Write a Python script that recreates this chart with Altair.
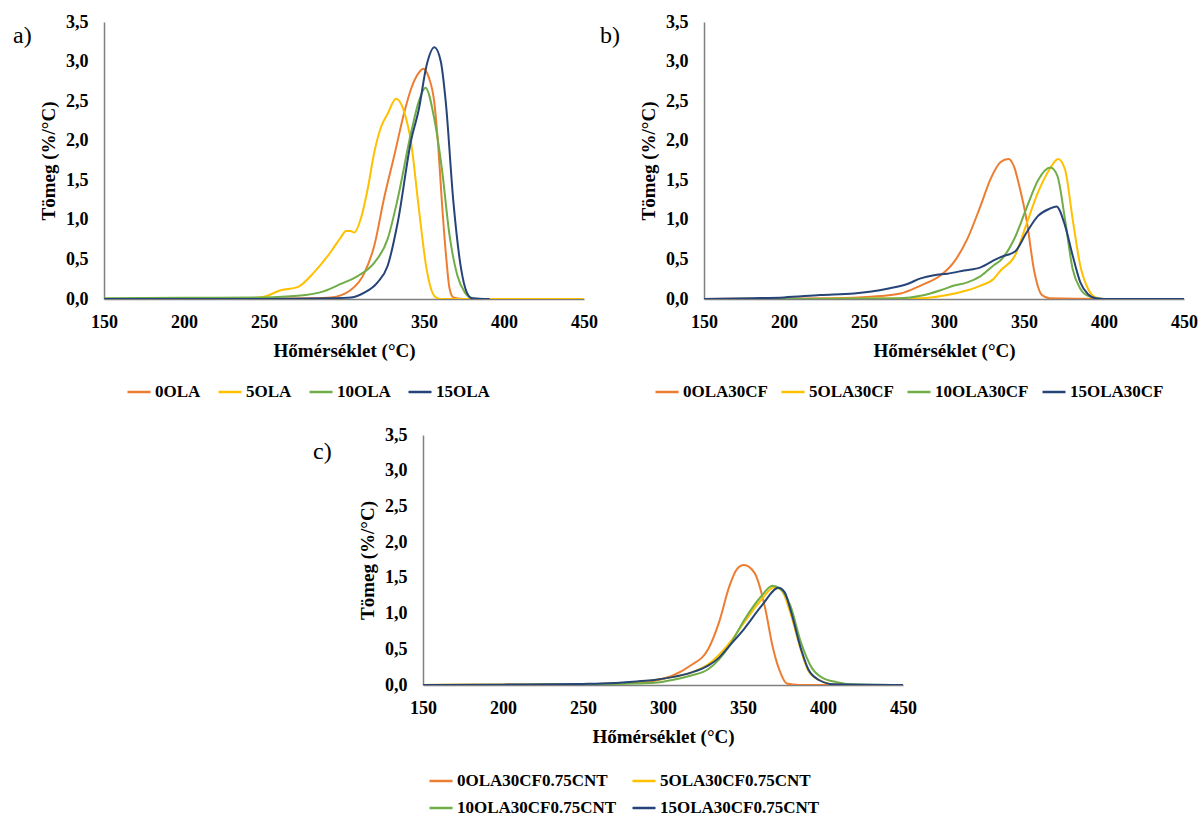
import altair as alt
import pandas as pd

# ---------------- data ----------------
COLORS = ["#ED7D31", "#FFC000", "#70AD47", "#264478"]

A_NAMES = ["0OLA", "5OLA", "10OLA", "15OLA"]
A0_T = [150, 200, 250, 280, 292, 304, 313, 319, 325, 331.5, 337.7, 342, 346.8, 349.5, 353, 356.4, 359, 361.2, 363.6, 366, 368.4, 375]
A0_V = [0.0, 0.0, 0.005, 0.01, 0.02, 0.11, 0.34, 0.68, 1.27, 1.82, 2.36, 2.66, 2.86, 2.91, 2.8, 2.49, 1.9, 1.22, 0.59, 0.13, 0.02, 0.0]
A5_T = [150, 200, 240, 250, 260.6, 271, 281.4, 291.9, 298, 301.3, 304, 306.4, 310.6, 314.8, 319, 323.1, 327.3, 332.5, 337.7, 341.9, 346.8, 351.6, 356.4, 360, 400, 450]
A5_V = [0.0, 0.005, 0.01, 0.03, 0.11, 0.15, 0.34, 0.6, 0.78, 0.86, 0.86, 0.84, 1.02, 1.39, 1.86, 2.17, 2.34, 2.53, 2.36, 1.98, 1.14, 0.38, 0.04, 0.0, 0.0, 0.0]
A10_T = [150, 200, 250, 271, 287.7, 298, 308.5, 319, 327.3, 333.6, 341.9, 346.8, 350.9, 356.4, 361.2, 366, 370.8, 375.6, 380, 385]
A10_V = [0.01, 0.015, 0.02, 0.04, 0.1, 0.19, 0.29, 0.46, 0.76, 1.27, 2.1, 2.5, 2.67, 2.28, 1.64, 0.8, 0.3, 0.08, 0.01, 0.0]
A15_T = [150, 200, 250, 292, 304.4, 312.7, 321, 327.3, 333.6, 341.9, 346.8, 351.6, 356.5, 360.5, 363.6, 368.4, 373.2, 376.8, 380, 391]
A15_V = [0.0, 0.0, 0.0, 0.01, 0.02, 0.08, 0.21, 0.42, 0.97, 2.0, 2.4, 2.95, 3.18, 3.0, 2.49, 1.22, 0.38, 0.08, 0.01, 0.0]

B_NAMES = ["0OLA30CF", "5OLA30CF", "10OLA30CF", "15OLA30CF"]
B0_T = [150, 200, 230, 254.2, 272.9, 285.4, 297.9, 306.3, 314.6, 322.9, 329.2, 335.4, 340.3, 344, 346.8, 351.6, 356.4, 361.2, 366, 400, 450]
B0_V = [0.0, 0.005, 0.01, 0.03, 0.07, 0.17, 0.3, 0.47, 0.76, 1.18, 1.52, 1.73, 1.77, 1.66, 1.45, 1.0, 0.35, 0.05, 0.01, 0.0, 0.0]
B5_T = [150, 200, 250, 285.4, 302.1, 314.6, 322.9, 331.3, 335.4, 344.4, 351.6, 358.8, 366, 371.3, 375.6, 380.4, 385.2, 390, 394.8, 400, 450]
B5_V = [0.0, 0.0, 0.005, 0.01, 0.05, 0.11, 0.17, 0.26, 0.36, 0.55, 0.95, 1.35, 1.64, 1.77, 1.64, 1.01, 0.42, 0.13, 0.02, 0.0, 0.0]
B10_T = [150, 200, 250, 272.9, 285.4, 297.9, 306.3, 314.6, 322.9, 331.3, 335.4, 344.4, 351.6, 358.8, 366.5, 370.8, 375.6, 380.4, 385.2, 390, 400, 450]
B10_V = [0.0, 0.0, 0.005, 0.01, 0.04, 0.11, 0.17, 0.21, 0.29, 0.43, 0.49, 0.78, 1.15, 1.5, 1.66, 1.56, 1.01, 0.38, 0.13, 0.04, 0.0, 0.0]
B15_T = [150, 180, 200, 222.8, 243.8, 264.6, 277.1, 285.4, 293.8, 302.1, 312.5, 322.9, 331.3, 335.4, 344.4, 351.6, 358.8, 366, 370.3, 375.6, 380.4, 385.2, 390, 394.8, 400, 450]
B15_V = [0.0, 0.01, 0.02, 0.05, 0.07, 0.13, 0.19, 0.26, 0.3, 0.32, 0.36, 0.4, 0.49, 0.53, 0.6, 0.84, 1.05, 1.14, 1.17, 0.93, 0.55, 0.21, 0.06, 0.01, 0.0, 0.0]

C_NAMES = ["0OLA30CF0.75CNT", "5OLA30CF0.75CNT", "10OLA30CF0.75CNT", "15OLA30CF0.75CNT"]
C0_T = [150, 200, 250, 283.5, 294.6, 305.8, 317, 328.2, 334.9, 341.6, 346.1, 350.5, 357.2, 364, 368.4, 372.9, 377.4, 385, 450]
C0_V = [0.0, 0.005, 0.01, 0.03, 0.06, 0.13, 0.27, 0.5, 0.87, 1.39, 1.62, 1.68, 1.57, 1.06, 0.55, 0.2, 0.02, 0.0, 0.0]
C5_T = [150, 200, 250, 270, 283.5, 294.6, 305.8, 317, 328.2, 341.6, 350.5, 361.7, 369.5, 374, 379.6, 386.3, 390.8, 397.5, 406.4, 420, 450]
C5_V = [0.0, 0.005, 0.01, 0.02, 0.04, 0.07, 0.11, 0.17, 0.29, 0.59, 0.87, 1.2, 1.37, 1.33, 1.01, 0.48, 0.2, 0.07, 0.01, 0.0, 0.0]
C10_T = [150, 200, 250, 283.5, 294.6, 305.8, 317, 328.2, 341.6, 350.5, 361.7, 368.4, 373, 379.6, 386.3, 393, 399.7, 408.6, 417.6, 450]
C10_V = [0.0, 0.005, 0.01, 0.02, 0.03, 0.07, 0.13, 0.22, 0.55, 0.9, 1.25, 1.39, 1.35, 1.11, 0.59, 0.24, 0.1, 0.04, 0.01, 0.0]
C15_T = [150, 200, 250, 261.1, 283.5, 294.6, 305.8, 317, 328.2, 334.9, 341.6, 350.5, 361.7, 372.2, 376, 379.6, 386.3, 390.8, 397.5, 406.4, 450]
C15_V = [0.0, 0.005, 0.015, 0.02, 0.05, 0.07, 0.11, 0.17, 0.27, 0.38, 0.55, 0.78, 1.11, 1.36, 1.3, 1.06, 0.5, 0.22, 0.07, 0.01, 0.0]

X_TICKS = [150, 200, 250, 300, 350, 400, 450]
Y_TICKS = [0, 0.5, 1.0, 1.5, 2.0, 2.5, 3.0, 3.5]
X_TITLE = "Hőmérséklet (°C)"
Y_TITLE = "Tömeg (%/°C)"

SERIF = "Liberation Serif"


def make_df(names, ts, vs):
    rows = []
    for n, t, v in zip(names, ts, vs):
        for a, b in zip(t, v):
            rows.append({"series": n, "T": a, "v": b})
    return pd.DataFrame(rows)


def panel(names, ts, vs, label, height, cols, lx, ly, colpad, tx, ty):
    df = make_df(names, ts, vs)
    legend = alt.Legend(
        title=None, orient="none", legendX=lx, legendY=ly, direction="horizontal",
        columns=cols, columnPadding=colpad, rowPadding=6, labelLimit=400,
    )
    color = alt.Color("series:N", scale=alt.Scale(domain=names, range=COLORS), legend=legend)
    x = alt.X("T:Q", scale=alt.Scale(domain=[150, 450], nice=False, zero=False),
              axis=alt.Axis(values=X_TICKS, title=X_TITLE))
    y = alt.Y("v:Q", scale=alt.Scale(domain=[0, 3.5], nice=False),
              axis=alt.Axis(values=Y_TICKS, title=Y_TITLE,
                            labelExpr="replace(format(datum.value, '.1f'), '.', ',')"))
    layers = []
    for n in names:
        layers.append(
            alt.Chart(df).transform_filter(alt.datum.series == n)
            .mark_line(strokeWidth=2, interpolate="monotone", clip=True)
            .encode(x=x, y=y, color=color)
        )
    txt = alt.Chart(pd.DataFrame({"t": [label]})).mark_text(
        align="left", baseline="middle", fontSize=24, font=SERIF, color="black"
    ).encode(x=alt.value(tx), y=alt.value(ty), text="t:N")
    layers.append(txt)
    return alt.layer(*layers).properties(width=480, height=height)


pa = panel(A_NAMES, [A0_T, A5_T, A10_T, A15_T], [A0_V, A5_V, A10_V, A15_V],
           "a)", 277, 4, 22, 357, 12, -91, 14)
pb = panel(B_NAMES, [B0_T, B5_T, B10_T, B15_T], [B0_V, B5_V, B10_V, B15_V],
           "b)", 277, 4, -50, 357, 8, -104, 14)
pc = panel(C_NAMES, [C0_T, C5_T, C10_T, C15_T], [C0_V, C5_V, C10_V, C15_V],
           "c)", 250, 2, 5, 333, 10, -110, 17)

spacer = alt.Chart(pd.DataFrame({"x": [0], "y": [0]})).mark_point(opacity=0).encode(
    x=alt.X("x:Q", axis=None), y=alt.Y("y:Q", axis=None)
).properties(width=299, height=250)

top = alt.hconcat(pa, pb, spacing=120, bounds="flush").resolve_scale(color="independent")
bottom = alt.hconcat(spacer, pc, spacing=20, bounds="flush").resolve_scale(color="independent")

chart = alt.vconcat(top, bottom, spacing=413, bounds="flush").resolve_scale(
    color="independent"
).properties(
    padding={"left": 12, "top": 12, "right": 5, "bottom": 2},
    background="white",
).configure_view(
    stroke="transparent"
).configure_axis(
    grid=False, ticks=False, tickSize=0, labelFlush=False,
    domainColor="#808080", domainWidth=1.5,
    labelFont=SERIF, labelFontWeight="bold", labelFontSize=18, labelColor="black",
    titleFont=SERIF, titleFontWeight="bold", titleFontSize=19, titleColor="black",
).configure_axisX(
    labelPadding=14, titlePadding=10
).configure_axisY(
    labelPadding=16, titlePadding=7
).configure_legend(
    labelFont=SERIF, labelFontWeight="bold", labelFontSize=17, labelColor="black",
    symbolType="stroke", symbolSize=529, symbolStrokeWidth=2.5, labelOffset=3, padding=0,
)

chart.save("out.html", embed_options={"renderer": "svg", "actions": False})
